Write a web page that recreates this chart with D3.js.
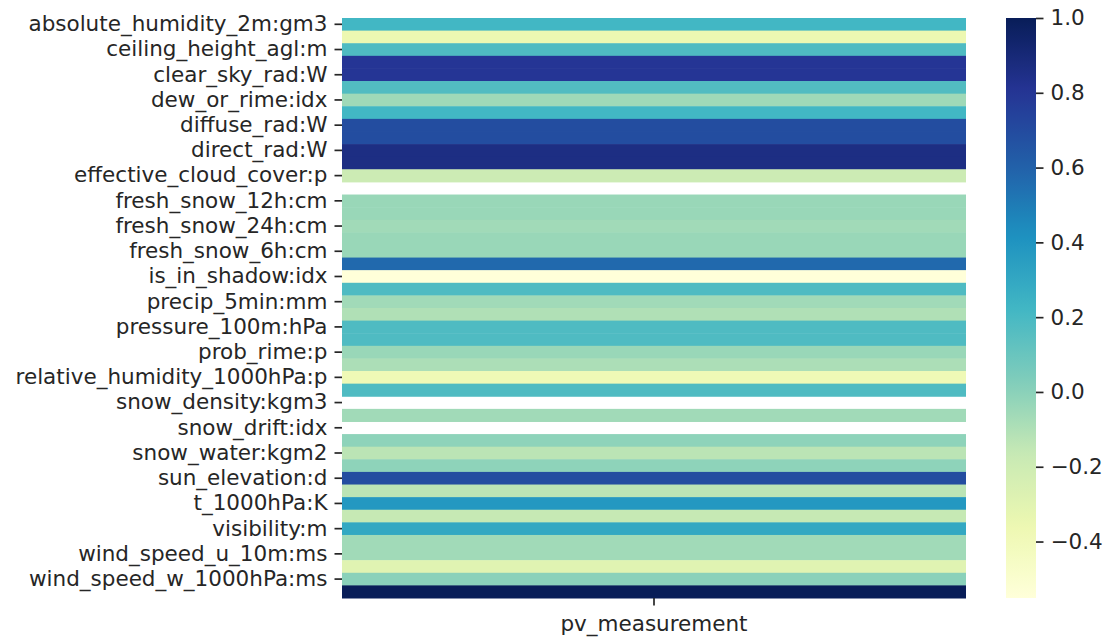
<!DOCTYPE html>
<html>
<head>
<meta charset="utf-8">
<script src="https://cdn.jsdelivr.net/npm/d3@7"></script>
<style>
  body { margin: 0; background: #fff; }
  text { font-family: "DejaVu Sans", sans-serif; fill: #262626; }
</style>
</head>
<body>
<div id="chart"></div>
<script>
// features (rows) and their correlation with pv_measurement
const features = [
  "absolute_humidity_2m:gm3", "air_density_2m:kgm3", "ceiling_height_agl:m", "clear_sky_energy_1h:J",
  "clear_sky_rad:W", "cloud_base_agl:m", "dew_or_rime:idx", "dew_point_2m:K",
  "diffuse_rad:W", "diffuse_rad_1h:J", "direct_rad:W", "direct_rad_1h:J",
  "effective_cloud_cover:p", "elevation:m", "fresh_snow_12h:cm", "fresh_snow_1h:cm",
  "fresh_snow_24h:cm", "fresh_snow_3h:cm", "fresh_snow_6h:cm", "is_day:idx",
  "is_in_shadow:idx", "msl_pressure:hPa", "precip_5min:mm", "precip_type_5min:idx",
  "pressure_100m:hPa", "pressure_50m:hPa", "prob_rime:p", "rain_water:kgm2",
  "relative_humidity_1000hPa:p", "sfc_pressure:hPa", "snow_density:kgm3", "snow_depth:cm",
  "snow_drift:idx", "snow_melt_10min:mm", "snow_water:kgm2", "sun_azimuth:d",
  "sun_elevation:d", "super_cooled_liquid_water:kgm2", "t_1000hPa:K", "total_cloud_liquid_water:kgm2",
  "visibility:m", "wind_speed_10m:ms", "wind_speed_u_10m:ms", "wind_speed_v_10m:ms",
  "wind_speed_w_1000hPa:ms", "pv_measurement"
];
// null = NaN (constant column)
const corr = [
  0.22, -0.36, 0.18, 0.80,
  0.80, 0.17, -0.055, 0.22,
  0.69, 0.69, 0.86, 0.86,
  -0.19, null, -0.04, -0.04,
  -0.06, -0.04, -0.04, 0.57,
  -0.551, 0.18, -0.06, -0.10,
  0.18, 0.18, -0.04, -0.09,
  -0.38, 0.18, null, -0.06,
  null, -0.01, -0.13, -0.01,
  0.69, -0.13, 0.38, -0.16,
  0.30, -0.06, -0.06, -0.29,
  0.0, 1.0
];
const columns = ["pv_measurement"];
const cbarTicks = [1.0, 0.8, 0.6, 0.4, 0.2, 0.0, -0.2, -0.4];

const width = 1107, height = 638;
const mLeft = 342, mRight = 966, mTop = 18, mBottom = 598;
const fontSize = 21.5, tickLen = 7.5, tickPad = 7, tickW = 1.7;

const svg = d3.select("#chart").append("svg")
  .attr("width", width).attr("height", height);

const vmin = d3.min(corr.filter(v => v != null)), vmax = d3.max(corr.filter(v => v != null));

// matplotlib YlGnBu stops
const ylgnbu = ["#ffffd9", "#edf8b1", "#c7e9b4", "#7fcdbb", "#41b6c4", "#1d91c0", "#225ea8", "#253494", "#081d58"];
const color = d3.scaleLinear()
  .domain(ylgnbu.map((c, i) => vmin + (vmax - vmin) * i / (ylgnbu.length - 1)))
  .range(ylgnbu)
  .interpolate(d3.interpolateRgb)
  .clamp(true);

const x = d3.scaleBand().domain(columns).range([mLeft, mRight]);
const y = d3.scaleBand().domain(features).range([mTop, mBottom]);

const rows = features.map((f, i) => ({ f, v: corr[i] }));

svg.append("g").selectAll("rect")
  .data(rows.filter(d => d.v != null))
  .join("rect")
  .attr("x", x(columns[0]))
  .attr("y", d => y(d.f))
  .attr("width", x.bandwidth())
  .attr("height", y.bandwidth() + 0.5)
  .attr("fill", d => color(d.v));

function styleAxis(g) {
  g.select(".domain").remove();
  g.selectAll(".tick line").attr("stroke", "#262626").attr("stroke-width", tickW);
  g.selectAll(".tick text").attr("font-size", fontSize).attr("fill", "#262626")
    .attr("font-family", "DejaVu Sans, sans-serif");
}

// y axis: every second label
const yAxis = d3.axisLeft(y)
  .tickValues(features.filter((f, i) => i % 2 === 0))
  .tickSize(tickLen).tickPadding(tickPad);
svg.append("g").attr("transform", `translate(${mLeft},0)`).call(yAxis).call(styleAxis);

// x axis
const xAxis = d3.axisBottom(x).tickSize(tickLen).tickPadding(tickPad + 3);
svg.append("g").attr("transform", `translate(0,${mBottom})`).call(xAxis).call(styleAxis);

// colorbar
const cbX = 1006, cbW = 30;
const cbScale = d3.scaleLinear().domain([vmin, vmax]).range([mBottom, mTop]);
const defs = svg.append("defs");
const grad = defs.append("linearGradient").attr("id", "cbgrad")
  .attr("x1", 0).attr("y1", 1).attr("x2", 0).attr("y2", 0);
d3.range(0, 1.0001, 0.02).forEach(t => {
  grad.append("stop").attr("offset", t).attr("stop-color", color(vmin + t * (vmax - vmin)));
});
svg.append("rect")
  .attr("x", cbX).attr("y", mTop)
  .attr("width", cbW).attr("height", mBottom - mTop)
  .attr("fill", "url(#cbgrad)");

const cbAxis = d3.axisRight(cbScale).tickValues(cbarTicks).tickSize(tickLen).tickPadding(tickPad)
  .tickFormat(d => d3.format(".1f")(d).replace("-", "\u2212"));
svg.append("g").attr("transform", `translate(${cbX + cbW},0)`).call(cbAxis).call(styleAxis);
</script>
</body>
</html>
